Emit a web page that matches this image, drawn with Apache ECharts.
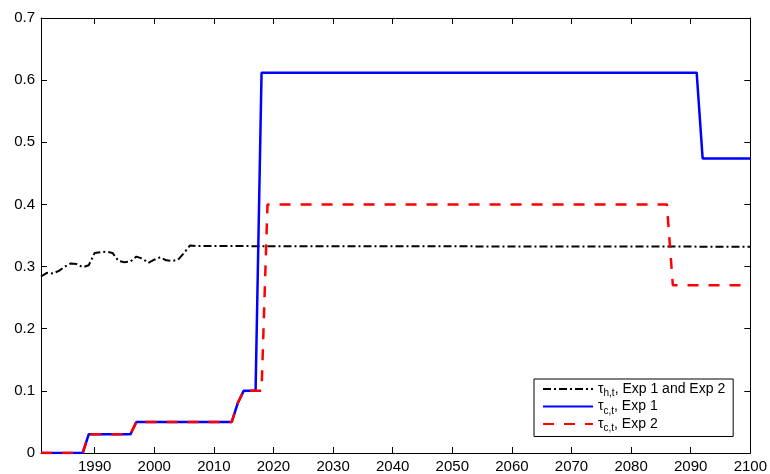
<!DOCTYPE html>
<html>
<head>
<meta charset="utf-8">
<script src="https://cdn.jsdelivr.net/npm/echarts@6/dist/echarts.min.js"></script>
<style>
  html, body { margin: 0; padding: 0; background: #fff; }
  #grafico { width: 770px; height: 474px; }
</style>
</head>
<body>
<div id="grafico"></div>
<script>
// tau_h,t (Exp 1 and Exp 2)
const aniosH = [1981, 1982, 1983, 1984, 1985, 1986, 1987, 1988, 1989, 1990,
    1991, 1992, 1993, 1994, 1995, 1996, 1997, 1998, 1999, 2000,
    2001, 2002, 2003, 2004, 2005, 2006, 2007, 2100];
const valoresH = [0.284, 0.290, 0.289, 0.293, 0.300, 0.305, 0.304, 0.299, 0.302, 0.322,
    0.323, 0.324, 0.322, 0.309, 0.307, 0.308, 0.316, 0.313, 0.306, 0.311,
    0.315, 0.310, 0.309, 0.311, 0.322, 0.334, 0.333, 0.332];

// tau_c,t, Exp 1
const aniosC1 = [1981, 1988, 1989, 1996, 1997, 2013, 2014, 2015, 2017, 2018, 2091, 2092, 2100];
const valoresC1 = [0, 0, 0.03, 0.03, 0.05, 0.05, 0.08, 0.1, 0.1, 0.612, 0.612, 0.474, 0.474];

// tau_c,t, Exp 2
const aniosC2 = [1981, 1988, 1989, 1996, 1997, 2013, 2014, 2015, 2018, 2019, 2086, 2087, 2100];
const valoresC2 = [0, 0, 0.03, 0.03, 0.05, 0.05, 0.08, 0.1, 0.1, 0.4, 0.4, 0.27, 0.27];

const ticksX = [1990, 2000, 2010, 2020, 2030, 2040, 2050, 2060, 2070, 2080, 2090, 2100];

const fuente = 'Liberation Sans, Arial, Helvetica, sans-serif';

const pares = (xs, ys) => xs.map((x, i) => [x, ys[i]]);

const textosLeyenda = {
    h: '{t|τ}{s|h,t}{t|, Exp 1 and Exp 2}',
    c1: '{t|τ}{s|c,t}{t|, Exp 1}',
    c2: '{t|τ}{s|c,t}{t|, Exp 2}'
};

const chart = echarts.init(document.getElementById('grafico'));

const ejeX = {
    type: 'value',
    min: 1981,
    max: 2100,
    axisLine: { show: true, onZero: false, lineStyle: { color: '#000', width: 1 } },
    axisTick: { show: true, inside: true, length: 6, customValues: ticksX, lineStyle: { color: '#000' } },
    splitLine: { show: false }
};

const ejeY = {
    type: 'value',
    min: 0,
    max: 0.7,
    interval: 0.1,
    axisLine: { show: true, onZero: false, lineStyle: { color: '#000', width: 1 } },
    axisTick: { show: true, inside: true, length: 6, lineStyle: { color: '#000' } },
    splitLine: { show: false }
};

chart.setOption({
    animation: false,
    backgroundColor: '#fff',
    grid: { left: 41, right: 18, top: 18, bottom: 19 },
    xAxis: [
        Object.assign({}, ejeX, {
            position: 'bottom',
            axisLabel: {
                customValues: ticksX, color: '#000', fontSize: 15,
                fontFamily: fuente, margin: 6,
                formatter: v => String(v)
            }
        }),
        Object.assign({}, ejeX, { position: 'top', axisLabel: { show: false } })
    ],
    yAxis: [
        Object.assign({}, ejeY, {
            position: 'left',
            axisLabel: {
                color: '#000', fontSize: 15, fontFamily: fuente, margin: 6,
                formatter: v => (v === 0 ? '0' : v.toFixed(1))
            }
        }),
        Object.assign({}, ejeY, { position: 'right', axisLabel: { show: false } })
    ],
    legend: {
        orient: 'vertical',
        left: 534,
        top: 379,
        width: 202,
        padding: [3, 8, 3, 8],
        itemGap: 1,
        itemWidth: 50,
        itemHeight: 16,
        borderColor: '#000',
        borderWidth: 1,
        backgroundColor: '#fff',
        itemStyle: { opacity: 0 },
        data: ['h', 'c1', 'c2'],
        formatter: name => textosLeyenda[name],
        textStyle: {
            rich: {
                t: { fontSize: 14, fontFamily: fuente, color: '#000' },
                s: { fontSize: 10, fontFamily: fuente, color: '#000', padding: [9, 0, 0, 0] }
            }
        }
    },
    series: [
        {
            name: 'h',
            type: 'line',
            data: pares(aniosH, valoresH),
            showSymbol: false,
            symbol: 'none',
            lineStyle: { color: '#000', width: 2, type: [8, 3, 2, 3] },
            itemStyle: { color: '#000' }
        },
        {
            name: 'c1',
            type: 'line',
            data: pares(aniosC1, valoresC1),
            showSymbol: false,
            symbol: 'none',
            lineStyle: { color: '#0000ff', width: 2.5, type: 'solid' },
            itemStyle: { color: '#0000ff' }
        },
        {
            name: 'c2',
            type: 'line',
            data: pares(aniosC2, valoresC2),
            showSymbol: false,
            symbol: 'none',
            lineStyle: { color: '#ff0000', width: 2.5, type: [11, 10] },
            itemStyle: { color: '#ff0000' }
        }
    ]
});

window.addEventListener('resize', () => {
    chart.resize();
});
</script>
</body>
</html>
